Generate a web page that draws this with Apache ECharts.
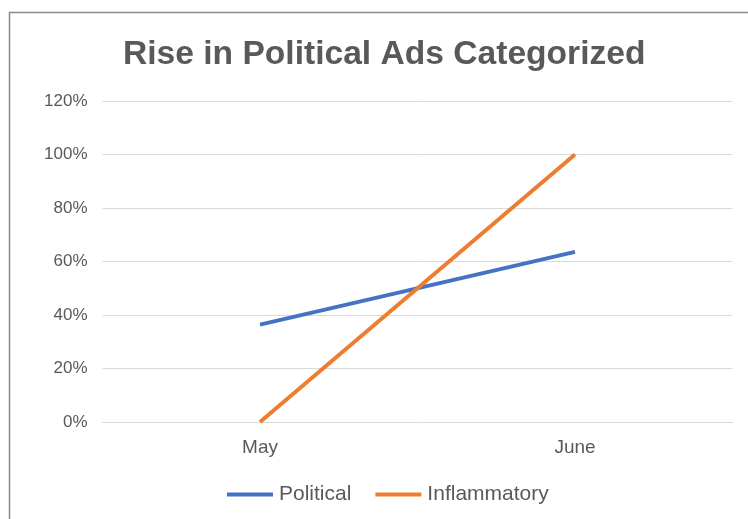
<!DOCTYPE html>
<html>
<head>
<meta charset="utf-8">
<script src="https://cdn.jsdelivr.net/npm/echarts@6/dist/echarts.min.js"></script>
<style>
  html, body { margin: 0; padding: 0; background: #fff; }
  #chart { width: 748px; height: 519px; }
</style>
</head>
<body>
<div id="chart"></div>
<script>
let months = ['May', 'June']
let political = [36.4, 63.6]
let inflammatory = [0, 100]
let yTicks = [0, 20, 40, 60, 80, 100, 120]

let chart = echarts.init(document.getElementById('chart'))
let font = '"Liberation Sans", Arial, sans-serif'

let option = {
  animation: false,
  textStyle: { fontFamily: font },
  title: {
    text: 'Rise in Political Ads Categorized',
    left: 118,
    top: 33,
    textStyle: { fontFamily: font, fontSize: 33.6, fontWeight: 'bold', color: '#595959' }
  },
  graphic: [{
    type: 'rect',
    shape: { x: 9.5, y: 12.5, width: 760, height: 530 },
    style: { fill: 'none', stroke: '#898989', lineWidth: 1.5 },
    silent: true
  }],
  legend: {
    bottom: 9,
    left: 222,
    icon: 'rect',
    itemWidth: 46,
    itemHeight: 4,
    itemGap: 24,
    textStyle: { fontFamily: font, fontSize: 21, color: '#595959', padding: [0, 0, 0, 1] },
    data: ['Political', 'Inflammatory']
  },
  grid: { left: 102.5, right: 15.5, top: 101, bottom: 97, containLabel: false },
  xAxis: {
    type: 'category',
    data: months,
    boundaryGap: true,
    axisLine: { lineStyle: { color: '#d9d9d9' } },
    axisTick: { show: false },
    axisLabel: { fontSize: 19, color: '#595959', margin: 16 }
  },
  yAxis: {
    type: 'value',
    min: yTicks[0],
    max: yTicks[yTicks.length - 1],
    interval: 20,
    axisLine: { show: false },
    axisTick: { show: false },
    splitLine: { lineStyle: { color: '#d9d9d9', width: 1 } },
    axisLabel: { fontSize: 17, color: '#595959', margin: 15, formatter: '{value}%' }
  },
  series: [
    {
      name: 'Political',
      type: 'line',
      data: political,
      symbol: 'none',
      lineStyle: { color: '#4472C4', width: 4 },
      itemStyle: { color: '#4472C4' }
    },
    {
      name: 'Inflammatory',
      type: 'line',
      data: inflammatory,
      symbol: 'none',
      lineStyle: { color: '#ED7D31', width: 4 },
      itemStyle: { color: '#ED7D31' }
    }
  ]
}

chart.setOption(option)
</script>
</body>
</html>
